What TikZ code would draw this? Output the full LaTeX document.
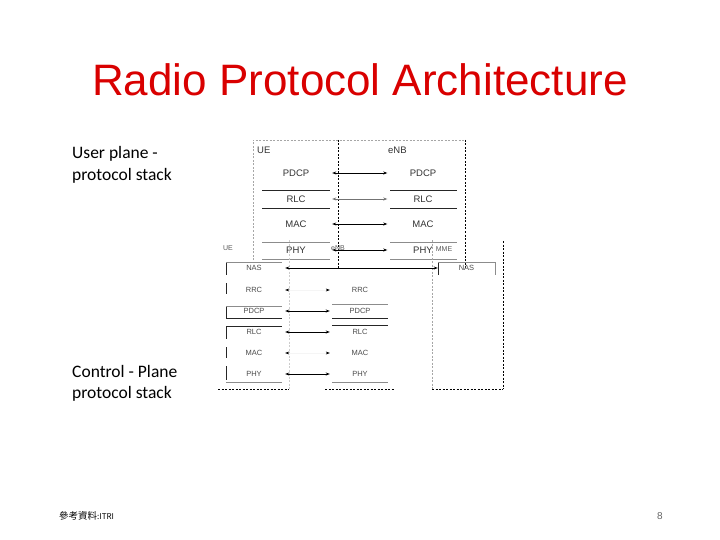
\documentclass[tikz,border=0pt]{standalone}
\usepackage{fontspec}
\setmainfont{Liberation Sans}
\newfontfamily\calib{Carlito}
\newfontfamily\cjk{Noto Sans CJK TC}
\usetikzlibrary{arrows.meta}
\begin{document}
\begin{tikzpicture}[x=1pt,y=-1pt,
  up/.style={font=\fontsize{9.5}{10}\selectfont,text=black!80,inner sep=0pt,minimum height=14pt},
  lo/.style={font=\fontsize{7.5}{8}\selectfont,text=black!70,inner sep=0pt,minimum height=11pt},
  tiny/.style={font=\fontsize{7}{8}\selectfont,text=black!65,inner sep=0pt},
  side/.style={font=\calib\fontsize{17.5}{19}\selectfont,anchor=base west,inner sep=0pt},
  arr/.style={line width=0.7pt,{Stealth[length=4pt,width=3pt]}-{Stealth[length=4pt,width=3pt]}},
  ghost/.style={draw=black!4,line width=0.5pt,{Stealth[length=4pt,width=3pt,color=black]}-{Stealth[length=4pt,width=3pt,color=black]}},
  gdash/.style={draw=black!35,dash pattern=on 2pt off 1.5pt,line width=0.6pt},
  fdash/.style={draw=black!20,dash pattern=on 2pt off 1.5pt,line width=0.6pt},
  bdash/.style={draw=black,dash pattern=on 2pt off 1.5pt,line width=0.7pt},
  gl/.style={draw=black!45,line width=0.7pt},
  bl/.style={draw=black!85,line width=0.7pt}]
\useasboundingbox (0,0) rectangle (720,540);
\fill[white] (0,0) rectangle (720,540);

% title
\node[anchor=base,text=red!85!black,font=\fontsize{44}{48}\selectfont,inner sep=0pt] (title) at (360,96) {Radio Protocol Architecture};

% side labels
\node[side] (s1) at (72,159) {User plane -};
\node[side] (s2) at (72,181) {protocol stack};
\node[side] (s3) at (72,377) {Control - Plane};
\node[side] (s4) at (72,398) {protocol stack};

% ---------- user plane ----------
\draw[gdash] (253,260) -- (253,140) -- (465,140);
\draw[bdash] (338,140) -- (338,268);
\draw[bdash] (465,140) -- (465,268);
\node[up,anchor=west] (ueU) at (257,150) {UE};
\node[up,anchor=west] (enbU) at (388,150) {eNB};

\foreach \n/\y in {PDCP/173,RLC/199,MAC/224,PHY/250}{
  \node[up,minimum width=68pt] (u\n) at (296,\y) {\n};
  \node[up,minimum width=67pt] (e\n) at (423,\y) {\n};
}
\foreach \xa/\xb in {262/330,390/457}{
  \draw[bl] (\xa,190) -- (\xb,190);
  \draw[bl] (\xa,208) -- (\xb,208);
  \draw[gl] (\xa,242) -- (\xb,242);
  \draw[gl] (\xa,259) -- (\xb,259);
}
\draw[arr,shorten <=2pt,shorten >=2pt] (uPDCP.east) -- (ePDCP.west);
\draw[arr,black!55,shorten <=2pt,shorten >=2pt] (uRLC.east) -- (eRLC.west);
\draw[arr,shorten <=2pt,shorten >=2pt] (uMAC.east) -- (eMAC.west);
\draw[arr,shorten <=2pt,shorten >=2pt] (uPHY.east) -- (ePHY.west);

% ---------- control plane ----------
\node[tiny] (ueC) at (228,248) {UE};
\node[tiny] (enbC) at (338,248) {eNB};
\node[tiny] (mme) at (444,249) {MME};

\draw[fdash] (289,240) -- (289,389);
\draw[gdash] (432,240) -- (432,389);
\draw[bdash] (503,241) -- (503,389);
\draw[bdash] (218,389) -- (289,389);
\draw[bdash] (325,389) -- (395,389);
\draw[bdash] (432,389) -- (503,389);

\foreach \n/\y in {NAS/268,RRC/290,PDCP/311,RLC/332,MAC/353,PHY/374}{
  \node[lo,minimum width=56pt] (cu\n) at (254,\y) {\n};
}
\foreach \n/\y in {RRC/290,PDCP/311,RLC/332,MAC/353,PHY/374}{
  \node[lo,minimum width=56pt] (ce\n) at (360,\y) {\n};
}
\node[lo,minimum width=57pt] (cmNAS) at (466.5,268) {NAS};

% UE stack borders
\draw[bl] (226,262) -- (226,275);
\draw[bl] (226,283) -- (226,294);
\draw[bl] (226,306) -- (226,318);
\draw[bl] (226,326) -- (226,339);
\draw[bl] (226,347) -- (226,358);
\draw[bl] (226,366) -- (226,380);
\draw[gl] (226,262) -- (282,262);
\draw[gl] (226,306) -- (282,306);
\draw[bl] (226,318) -- (282,318);
\draw[bl] (226,326) -- (282,326);
\draw[gl] (226,382) -- (282,382);
% eNB stack borders
\draw[gl] (332,304) -- (388,304);
\draw[bl] (332,318) -- (388,318);
\draw[bl] (332,325) -- (388,325);
\draw[gl] (332,382) -- (388,382);
% MME NAS box
\draw[bl] (438,262) -- (438,275);
\draw[gl] (438,262) -- (495,262) -- (495,275);

% control plane connectors
\draw[arr,shorten <=3pt] (cuNAS.east) -- (cmNAS.west);
\draw[ghost,shorten <=3pt,shorten >=2pt] (cuRRC.east) -- (ceRRC.west);
\draw[arr,shorten <=3pt,shorten >=2pt] (cuPDCP.east) -- (cePDCP.west);
\draw[arr,shorten <=3pt,shorten >=2pt] (cuRLC.east) -- (ceRLC.west);
\draw[ghost,shorten <=3pt,shorten >=2pt] (cuMAC.east) -- (ceMAC.west);
\draw[arr,shorten <=3pt,shorten >=2pt] (cuPHY.east) -- (cePHY.west);

% footer
\node[anchor=west,inner sep=0pt] (src) at (59,516) {\cjk\fontsize{9.5}{10}\selectfont 參考資料\fontsize{8}{9}\selectfont :ITRI};
\node[text=black!60,font=\fontsize{10}{12}\selectfont,inner sep=0pt] (pg) at (660,516) {8};
\end{tikzpicture}
\end{document}
